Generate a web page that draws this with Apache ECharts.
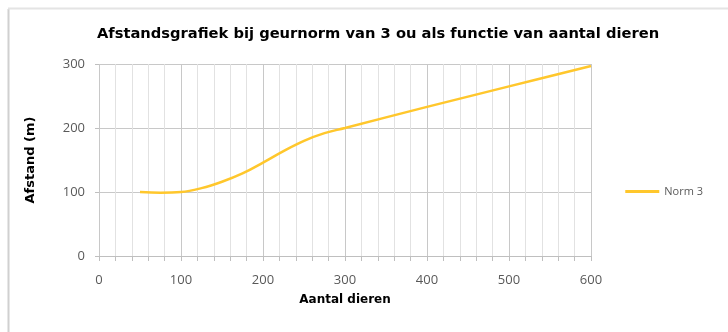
<!DOCTYPE html>
<html><head><meta charset="utf-8">
<script src="https://cdn.jsdelivr.net/npm/echarts@6/dist/echarts.min.js"></script>
<style>html,body{margin:0;padding:0;background:#fff}#c{width:728px;height:332px}</style>
</head><body><div id="c"></div>
<script>
const titleText = 'Afstandsgrafiek bij geurnorm van 3 ou als functie van aantal dieren';
const seriesName = 'Norm 3';
const xName = 'Aantal dieren';
const yName = 'Afstand (m)';
const animals = [50, 75, 100, 125, 150, 175, 200, 225, 250, 275, 300, 400, 500, 600];
const distance = [100, 99, 100, 106, 116, 129, 146, 164, 180, 192, 200, 233, 265, 297];

const chart = echarts.init(document.getElementById('c'));
const font = '"Open Sans", "Liberation Sans", sans-serif';
const wide = '"DejaVu Sans", sans-serif';
chart.setOption({
  animation: false,
  textStyle: { fontFamily: font },
  title: { text: titleText, left: 373, top: 22, textAlign: 'center',
    textStyle: { fontSize: 14.7, fontWeight: 'bold', color: '#000', fontFamily: wide } },
  legend: { right: 20, top: 181, itemWidth: 34, itemHeight: 3, icon: 'rect', itemGap: 3,
    textStyle: { fontSize: 11, color: '#595959', fontFamily: font } },
  grid: { left: 99, right: 137, top: 64, bottom: 76 },
  graphic: [
    { type: 'line', shape: { x1: 8.5, y1: 9, x2: 8.5, y2: 332 }, style: { stroke: '#d0d0d0', lineWidth: 2 } },
    { type: 'line', shape: { x1: 8, y1: 8.5, x2: 728, y2: 8.5 }, style: { stroke: '#e4e4e4', lineWidth: 2 } }
  ],
  xAxis: {
    type: 'value', min: 0, max: 600, interval: 100,
    name: xName, nameLocation: 'middle', nameGap: 38,
    nameTextStyle: { fontSize: 12, fontWeight: 'bold', color: '#000', fontFamily: wide },
    axisLine: { lineStyle: { color: '#bfbfbf' } },
    axisTick: { show: true, length: 5, lineStyle: { color: '#bfbfbf' } },
    minorTick: { show: true, splitNumber: 5, length: 5, lineStyle: { color: '#bfbfbf' } },
    axisLabel: { fontSize: 13, color: '#595959', margin: 18 },
    splitLine: { show: true, lineStyle: { color: '#c8c8c8' } },
    minorSplitLine: { show: true, lineStyle: { color: '#e2e2e2' } }
  },
  yAxis: {
    type: 'value', min: 0, max: 300, interval: 100,
    name: yName, nameLocation: 'middle', nameGap: 62,
    nameTextStyle: { fontSize: 13, fontWeight: 'bold', color: '#000', fontFamily: wide },
    axisLine: { show: false },
    axisTick: { show: true, length: 4, lineStyle: { color: '#bfbfbf' } },
    axisLabel: { fontSize: 13, color: '#595959', margin: 14 },
    splitLine: { show: true, lineStyle: { color: '#c8c8c8' } }
  },
  series: [{
    name: seriesName, type: 'line', smooth: 0.4, showSymbol: false,
    data: animals.map((a, i) => [a, distance[i]]),
    lineStyle: { color: '#FFC72C', width: 2.5 }, itemStyle: { color: '#FFC72C' }
  }]
});
</script></body></html>
